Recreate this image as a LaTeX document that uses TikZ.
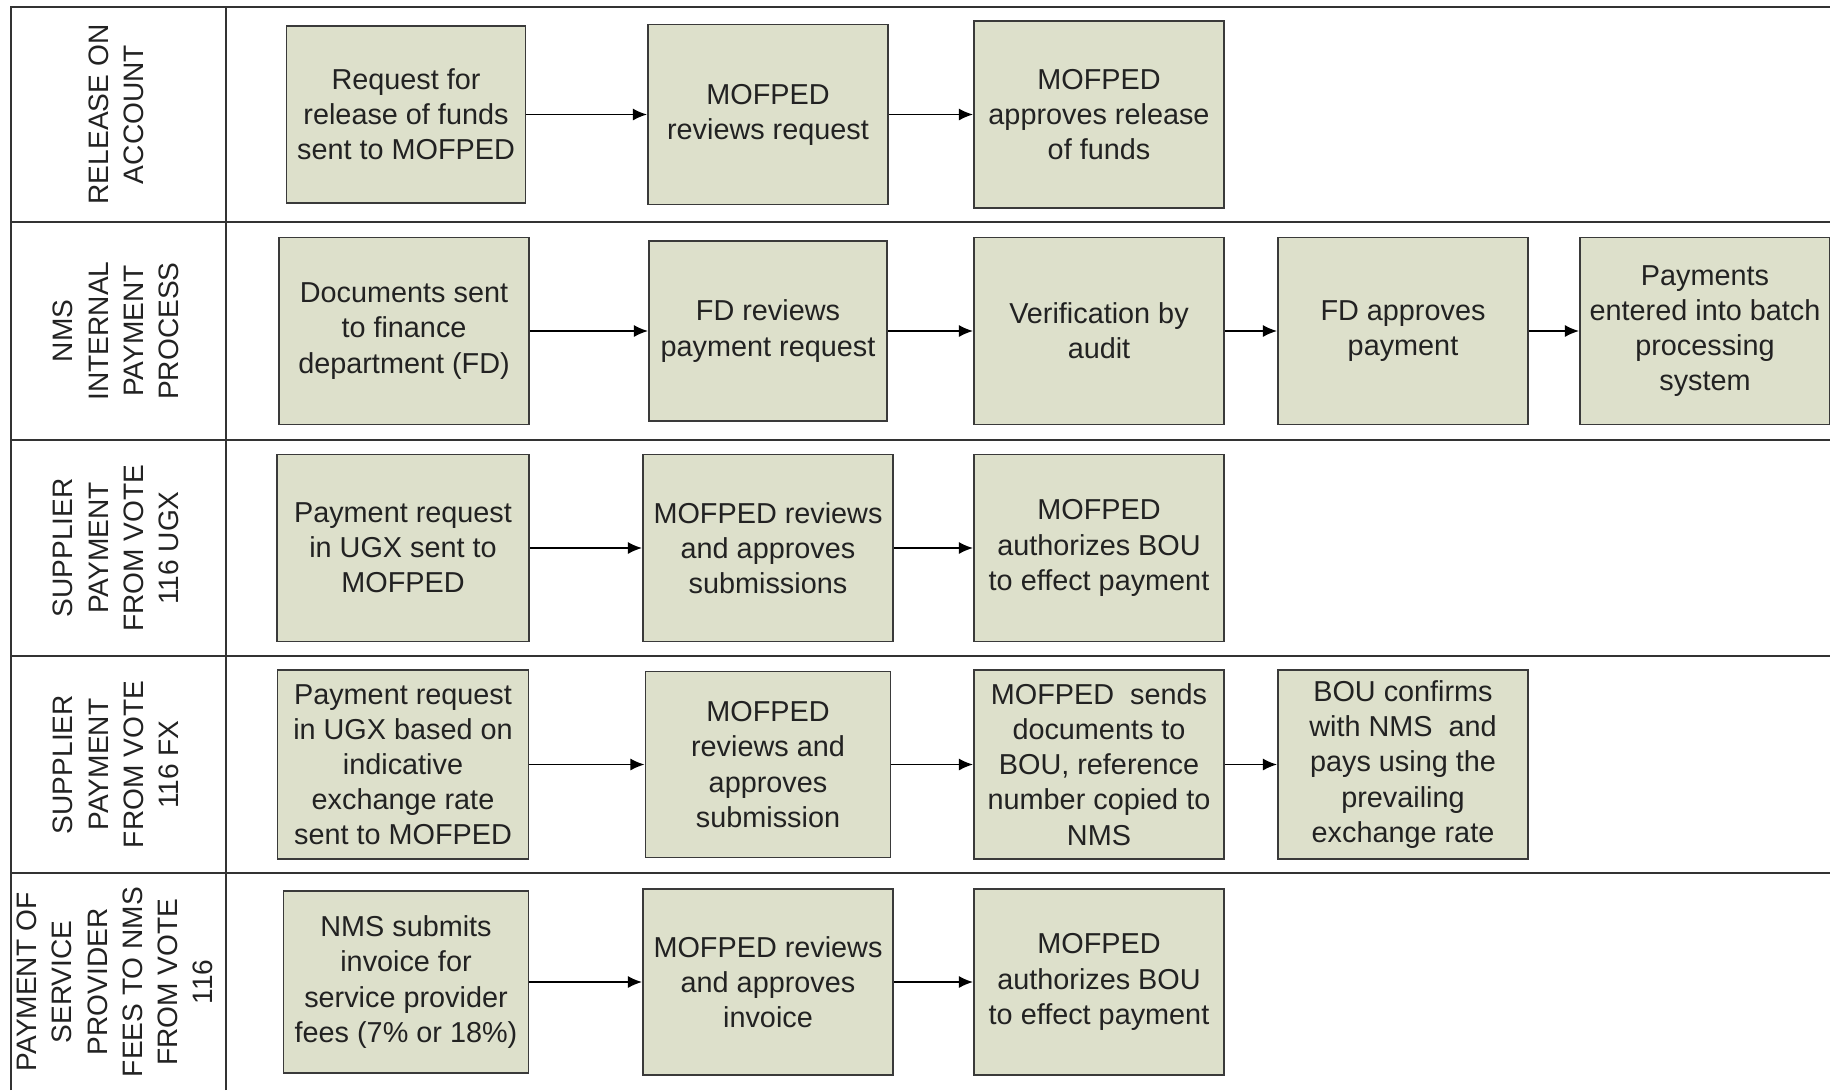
\documentclass[tikz,border=0pt]{standalone}
\usepackage{fontspec}
\setmainfont{Liberation Sans}
\usetikzlibrary{positioning,arrows.meta}

\definecolor{boxfill}{RGB}{221,224,203}
\definecolor{boxline}{RGB}{58,58,58}
\definecolor{inktext}{RGB}{34,34,34}

\tikzset{
  task/.style={draw=boxline, line width=0.55pt, fill=boxfill, align=center,
    minimum width=2.5cm, minimum height=1.87cm, inner sep=1pt,
    text=inktext, font=\fontsize{8.2}{10}\selectfont},
  lane/.style={rotate=90, align=center, inner sep=0pt, text=inktext,
    font=\fontsize{8}{10}\selectfont},
  flow/.style={-{Latex[length=4pt,width=3.4pt]}, line width=0.45pt},
  laneline/.style={line width=0.8pt, draw=black!80},
}

\begin{document}
\begin{tikzpicture}[on grid]
\useasboundingbox (0,0) rectangle (18.30,-10.90);
\clip (0,0) rectangle (18.30,-10.90);

% swimlanes
\draw[laneline] (0.11,-10.90) -- (0.11,-0.07) -- (18.30,-0.07);
\draw[laneline] (2.26,-10.90) -- (2.26,-0.07);
\foreach \y in {2.22,4.40,6.56,8.73}
  \draw[laneline] (0.11,-\y) -- (18.30,-\y);

\node[lane] (lrelease) at (1.16,-1.145) {RELEASE ON\\ACCOUNT};
\node[lane] (linternal) at (1.16,-3.31) {NMS\\INTERNAL\\PAYMENT\\PROCESS};
\node[lane] (lugx) at (1.16,-5.48) {SUPPLIER\\PAYMENT\\FROM VOTE\\116 UGX};
\node[lane] (lfx) at (1.16,-7.645) {SUPPLIER\\PAYMENT\\FROM VOTE\\116 FX};
\node[lane] (lfees) at (1.15,-9.82) {PAYMENT OF\\SERVICE\\PROVIDER\\FEES TO NMS\\FROM VOTE\\116};

% release on account
\node[task, minimum width=2.39cm, minimum height=1.77cm] (r1) [right=2.90cm of lrelease] {Request for\\release of funds\\sent to MOFPED};
\node[task, minimum width=2.40cm, minimum height=1.80cm] (r2) [right=3.62cm of r1] {MOFPED\\reviews request};
\node[task] (r3) [right=3.31cm of r2] {MOFPED\\approves release\\of funds};

% internal payment
\node[task] (n1) [right=2.88cm of linternal] {Documents sent\\to finance\\department (FD)};
\node[task, minimum width=2.38cm, minimum height=1.80cm] (n2) [right=3.64cm of n1] {FD reviews\\payment request};
\node[task] (n3) [right=3.31cm of n2] {Verification by\\audit};
\node[task] (n4) [right=3.04cm of n3] {FD approves\\payment};
\node[task] (n5) [right=3.02cm of n4] {Payments\\entered into batch\\processing\\system};

% vote 116 ugx
\node[task, minimum width=2.52cm] (u1) [right=2.87cm of lugx] {Payment request\\in UGX sent to\\MOFPED};
\node[task] (u2) [right=3.65cm of u1] {MOFPED reviews\\and approves\\submissions};
\node[task] (u3) [right=3.31cm of u2] {MOFPED\\authorizes BOU\\to effect payment};

% vote 116 fx
\node[task, minimum width=2.51cm, minimum height=1.89cm] (x1) [right=2.87cm of lfx] {Payment request\\in UGX based on\\indicative\\exchange rate\\sent to MOFPED};
\node[task, minimum width=2.45cm, minimum height=1.86cm] (x2) [right=3.65cm of x1] {MOFPED\\reviews and\\approves\\submission};
\node[task, minimum height=1.89cm] (x3) [right=3.31cm of x2] {MOFPED\ \ sends\\documents to\\BOU, reference\\number copied to\\NMS};
\node[task, minimum height=1.89cm] (x4) [right=3.04cm of x3] {BOU confirms\\with NMS\ \ and\\pays using the\\prevailing\\exchange rate};

% service provider fees
\node[task, minimum width=2.45cm, minimum height=1.82cm] (f1) [right=2.91cm of lfees] {NMS submits\\invoice for\\service provider\\fees (7\% or 18\%)};
\node[task, minimum height=1.86cm] (f2) [right=3.62cm of f1] {MOFPED reviews\\and approves\\invoice};
\node[task, minimum height=1.86cm] (f3) [right=3.31cm of f2] {MOFPED\\authorizes BOU\\to effect payment};

\draw[flow] (r1) -- (r2);
\draw[flow] (r2) -- (r3);
\draw[flow] (n1) -- (n2);
\draw[flow] (n2) -- (n3);
\draw[flow] (n3) -- (n4);
\draw[flow] (n4) -- (n5);
\draw[flow] (u1) -- (u2);
\draw[flow] (u2) -- (u3);
\draw[flow] (x1) -- (x2);
\draw[flow] (x2) -- (x3);
\draw[flow] (x3) -- (x4);
\draw[flow] (f1) -- (f2);
\draw[flow] (f2) -- (f3);
\end{tikzpicture}
\end{document}
